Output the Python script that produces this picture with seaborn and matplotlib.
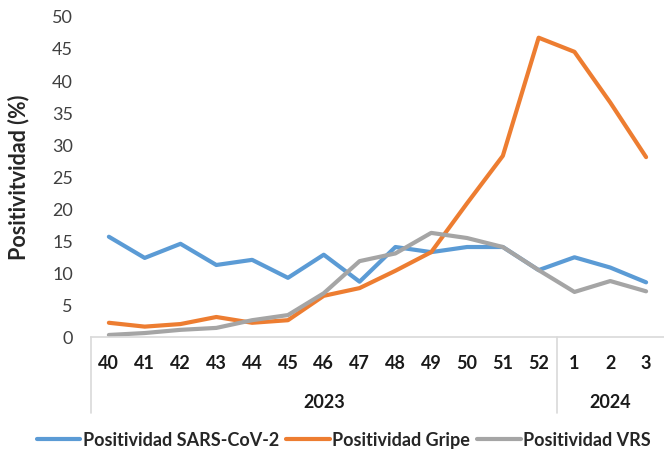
import matplotlib
matplotlib.use('Agg')
import matplotlib.pyplot as plt
import matplotlib.transforms as mtransforms
import seaborn as sns
import pandas as pd
import numpy as np

# epidemiological weeks and years
weeks = ['40', '41', '42', '43', '44', '45', '46', '47', '48', '49', '50', '51', '52', '1', '2', '3']
years = ['2023'] * 13 + ['2024'] * 3

sars_cov2 = [15.6, 12.3, 14.5, 11.2, 12.0, 9.2, 12.8, 8.6, 14.0, 13.2, 14.0, 14.0, 10.4, 12.4, 10.8, 8.5]
gripe = [2.2, 1.6, 2.0, 3.1, 2.2, 2.6, 6.4, 7.6, 10.3, 13.2, 20.8, 28.2, 46.6, 44.4, 36.5, 28.0]
vrs = [0.3, 0.6, 1.1, 1.4, 2.6, 3.4, 6.8, 11.8, 13.0, 16.2, 15.4, 14.0, 10.4, 7.0, 8.7, 7.1]

series_names = ['Positividad SARS-CoV-2', 'Positividad Gripe', 'Positividad VRS']
colors = ['#5B9BD5', '#ED7D31', '#A5A5A5']

sns.set_style('white')
plt.rcParams['font.family'] = ['Lato', 'DejaVu Sans']

pos = np.arange(len(weeks))
df = pd.DataFrame({
    'pos': np.tile(pos, 3),
    'value': sars_cov2 + gripe + vrs,
    'serie': np.repeat(series_names, len(weeks)),
})

fig = plt.figure(figsize=(6.64, 4.56), dpi=100)
ax = fig.add_axes([0.137, 0.259, 0.863, 0.704])

sns.lineplot(data=df, x='pos', y='value', hue='serie', palette=colors, linewidth=3,
             ax=ax, legend=True)

ax.set_xlim(-0.5, len(weeks) - 0.5)
ax.set_ylim(0, 50)
ax.set_yticks(np.arange(0, 51, 5))
ax.tick_params(axis='y', labelsize=13, colors='#404040', length=0, pad=13)
ax.set_xticks([])
ax.set_xlabel('')
ax.set_ylabel('Positivitvidad (%)', fontsize=15.5, fontweight='bold', labelpad=6)
ax.yaxis.set_label_coords(-0.107, 0.5)

for side in ['top', 'right', 'left']:
    ax.spines[side].set_visible(False)
ax.spines['bottom'].set_color('#D9D9D9')
ax.spines['bottom'].set_linewidth(1.2)

# two-level category axis
trans = mtransforms.blended_transform_factory(ax.transData, ax.transAxes)
for p, w in zip(pos, weeks):
    ax.text(p, -0.081, w, transform=trans, ha='center', va='center',
            fontsize=13, fontweight='bold', color='#1a1a1a')

year_list = list(dict.fromkeys(years))
edges = [-0.5]
for y in year_list:
    idx = [i for i, v in enumerate(years) if v == y]
    ax.text(np.mean(idx), -0.2, y, transform=trans, ha='center', va='center',
            fontsize=13, fontweight='bold', color='#1a1a1a')
    edges.append(idx[-1] + 0.5)
for e in edges[:-1]:
    ax.plot([e, e], [0, -0.237], transform=trans, color='#D9D9D9', lw=1.2, clip_on=False)

handles, labels = ax.get_legend_handles_labels()
ax.legend_.remove()
fig.legend(handles, labels, loc='center', bbox_to_anchor=(0.518, 0.033), ncol=3,
           frameon=False, prop={'size': 13, 'weight': 'bold'}, handlelength=2.4,
           handletextpad=0.15, columnspacing=0.4)

fig.savefig('out.png', dpi=100)
